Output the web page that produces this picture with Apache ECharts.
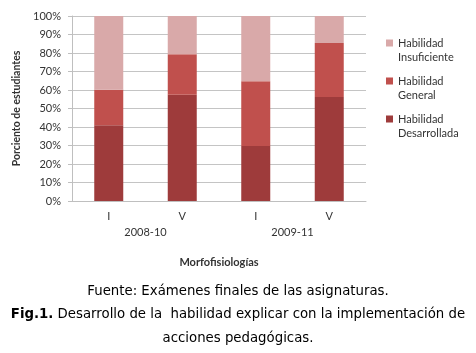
<!DOCTYPE html>
<html>
<head>
<meta charset="utf-8">
<script src="https://cdn.jsdelivr.net/npm/echarts@6/dist/echarts.min.js"></script>
<style>
html, body { margin: 0; padding: 0; background: #fff; }
#chart { width: 476px; height: 353px; }
</style>
</head>
<body>
<div id="chart"></div>
<script>
var categories = ['I', 'V', 'I', 'V'];
var periods = ['2008-10', '2009-11'];
var desarrollada = [41, 57.5, 29.7, 56.2];
var general = [19.2, 21.8, 35, 29.2];
var insuficiente = [39.8, 20.7, 35.3, 14.6];

var myChart = echarts.init(document.getElementById('chart'));
var labelFont = 'Lato';
var captionFont = '"DejaVu Sans", Verdana, sans-serif';
// square sitting on the first text line of a two-line legend label
var legendIcon = 'path://M0,0L0.01,0M0,3.5L7,3.5L7,10.5L0,10.5ZM0,28L0.01,28';
var option = {
	backgroundColor: '#fff',
	animation: false,
	grid: {
		left: 72,
		right: 110,
		top: 16,
		bottom: 152
	},
	title: [{
		text: 'Fuente: Exámenes finales de las asignaturas.',
		left: 'center',
		top: 280,
		textStyle: {
			fontFamily: captionFont,
			fontSize: 13.3,
			fontWeight: 'normal',
			color: '#000'
		}
	}, {
		text: '{b|Fig.1.} Desarrollo de la  habilidad explicar con la implementación de',
		left: 'center',
		top: 303,
		textStyle: {
			fontFamily: captionFont,
			fontSize: 13.3,
			fontWeight: 'normal',
			color: '#000',
			rich: {
				b: { fontFamily: captionFont, fontSize: 13.3, fontWeight: 'bold', color: '#000' }
			}
		}
	}, {
		text: 'acciones pedagógicas.',
		left: 'center',
		top: 327,
		textStyle: {
			fontFamily: captionFont,
			fontSize: 13.3,
			fontWeight: 'normal',
			color: '#000'
		}
	}],
	legend: {
		orient: 'vertical',
		left: 386,
		top: 36,
		padding: 0,
		itemWidth: 7,
		itemHeight: 28,
		itemGap: 10,
		icon: legendIcon,
		data: ['Habilidad\nInsuficiente', 'Habilidad\nGeneral', 'Habilidad\nDesarrollada'],
		textStyle: {
			fontFamily: labelFont,
			fontSize: 11,
			color: '#333',
			lineHeight: 14
		}
	},
	xAxis: [{
		type: 'category',
		data: categories,
		axisLine: { lineStyle: { color: '#bfbfbf' } },
		axisTick: { length: 4, lineStyle: { color: '#bfbfbf' } },
		axisLabel: { fontFamily: labelFont, fontSize: 11, color: '#333', margin: 10 }
	}, {
		type: 'category',
		data: periods,
		position: 'bottom',
		offset: 16,
		axisLine: { show: false },
		axisTick: { show: false },
		axisLabel: { fontFamily: labelFont, fontSize: 11, color: '#333', margin: 10 },
		name: 'Morfofisiologías',
		nameLocation: 'middle',
		nameGap: 40,
		nameTextStyle: { fontFamily: labelFont, fontSize: 11, fontWeight: 'bold', color: '#333' }
	}],
	yAxis: {
		type: 'value',
		min: 0,
		max: 100,
		interval: 10,
		name: 'Porciento de estudiantes',
		nameLocation: 'middle',
		nameGap: 36,
		nameTextStyle: { fontFamily: labelFont, fontSize: 10.5, fontWeight: 'bold', color: '#333' },
		axisLine: { show: true, lineStyle: { color: '#bfbfbf' } },
		axisTick: { show: true, length: 4, lineStyle: { color: '#bfbfbf' } },
		splitLine: { lineStyle: { color: '#c4c4c4' } },
		axisLabel: {
			fontFamily: labelFont,
			fontSize: 11,
			color: '#333',
			margin: 11,
			formatter: '{value}%'
		}
	},
	series: [{
		name: 'Habilidad\nDesarrollada',
		type: 'bar',
		stack: 'total',
		barWidth: 29,
		itemStyle: { color: '#9e3b3b' },
		data: desarrollada
	}, {
		name: 'Habilidad\nGeneral',
		type: 'bar',
		stack: 'total',
		barWidth: 29,
		itemStyle: { color: '#c0504d' },
		data: general
	}, {
		name: 'Habilidad\nInsuficiente',
		type: 'bar',
		stack: 'total',
		barWidth: 29,
		itemStyle: { color: '#d9a9a9' },
		data: insuficiente
	}]
};
myChart.setOption(option);
</script>
</body>
</html>
